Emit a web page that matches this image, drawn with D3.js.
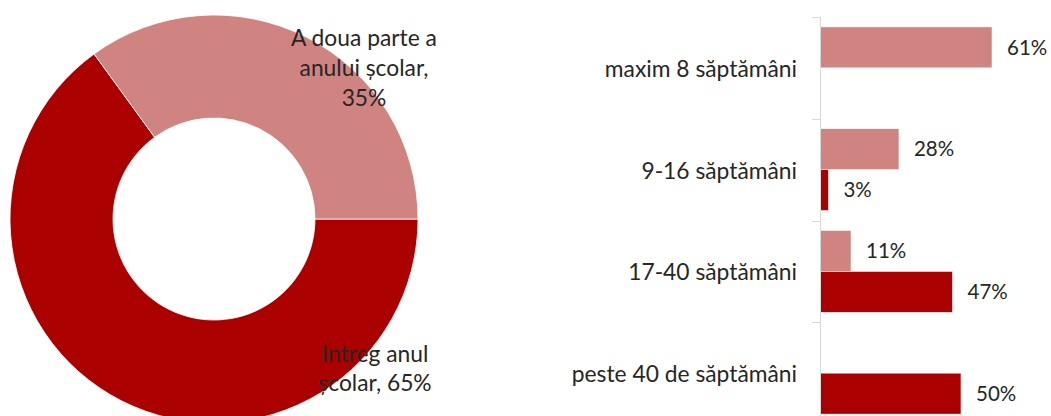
<!DOCTYPE html>
<html>
<head>
<meta charset="utf-8">
<script src="https://cdn.jsdelivr.net/npm/d3@7"></script>
<style>
  html, body { margin: 0; padding: 0; background: #fff; }
  svg { display: block; font-family: Lato, "Open Sans", sans-serif; }
</style>
</head>
<body>
<svg id="chart" width="1051" height="416"></svg>
<script>
// ---- Donut data ----
const donutNames = ["Intreg anul școlar", "A doua parte a anului școlar"];
const donutValues = [65, 35];
const donutLabelLines = [["Intreg anul", "școlar, 65%"], ["A doua parte a", "anului școlar,", "35%"]];

// ---- Bar data ----
const categories = ["maxim 8 săptămâni", "9-16 săptămâni", "17-40 săptămâni", "peste 40 de săptămâni"];
const seriesNames = ["A doua parte a anului școlar", "Intreg anul școlar"];
const seriesLight = [61, 28, 11, null];
const seriesDark = [null, 3, 47, 50];

const colorLight = "#D08482";
const colorDark = "#AA0000";
const textColor = "#262626";

const svg = d3.select("#chart");

// ---- Donut ----
const cx = 214, cy = 219, rOuter = 204, rInner = 101;
const pie = d3.pie().sort(null).value(d => d).startAngle(Math.PI / 2).endAngle(Math.PI / 2 + 2 * Math.PI);
const arcs = pie(donutValues);
const arc = d3.arc().innerRadius(rInner).outerRadius(rOuter);
const gDonut = svg.append("g").attr("transform", `translate(${cx},${cy})`);
gDonut.selectAll("path").data(arcs).enter().append("path")
  .attr("d", arc)
  .attr("fill", (d, i) => i === 0 ? colorDark : colorLight)
  .attr("stroke", "#fff").attr("stroke-width", 0.8);

// label positions (Excel-like best fit)
const donutLabelPos = [{x: 375, y: 362, dy: 29}, {x: 364, y: 46, dy: 30}];
donutLabelLines.forEach((lines, i) => {
  const p = donutLabelPos[i];
  const t = svg.append("text").attr("text-anchor", "middle")
    .attr("fill", textColor).style("font-size", "22.8px");
  lines.forEach((ln, j) => {
    t.append("tspan").attr("x", p.x).attr("y", p.y + j * p.dy).text(ln);
  });
});

// ---- Bars ----
const x0 = 820;
const x = d3.scaleLinear().domain([0, 70]).range([x0, x0 + 197.4]);
const y = d3.scaleBand().domain(categories).range([17, 424]).paddingInner(0.194).paddingOuter(0.097);
const ySub = d3.scaleBand().domain([0, 1]).range([0, y.bandwidth()]);
const step = y.step();
const gap = step * 0.194 / 2;

const rows = [];
categories.forEach((c, i) => {
  [seriesLight[i], seriesDark[i]].forEach((v, s) => {
    if (v !== null) rows.push({c, s, v});
  });
});

const gBars = svg.append("g");
gBars.selectAll("rect").data(rows).enter().append("rect")
  .attr("x", x(0))
  .attr("y", d => y(d.c) + ySub(d.s))
  .attr("width", d => x(d.v) - x(0))
  .attr("height", ySub.bandwidth())
  .attr("fill", d => d.s === 0 ? colorLight : colorDark)
  .attr("stroke", "#fff").attr("stroke-width", 0.6);

gBars.selectAll("text.val").data(rows).enter().append("text")
  .attr("class", "val")
  .attr("x", d => x(d.v) + 15)
  .attr("y", d => y(d.c) + ySub(d.s) + ySub.bandwidth() / 2)
  .attr("dy", "0.35em")
  .attr("fill", textColor)
  .style("font-size", "20.5px")
  .text(d => d.v + "%");

// axis line
const gAxis = svg.append("g");
gAxis.append("line")
  .attr("x1", x0 + 0.5).attr("x2", x0 + 0.5)
  .attr("y1", y(categories[0]) - gap).attr("y2", y(categories[categories.length - 1]) + y.bandwidth() + gap)
  .attr("stroke", "#D9D9D9").attr("stroke-width", 1);
const bounds = categories.map(c => y(c) - gap).concat([y(categories[categories.length - 1]) + y.bandwidth() + gap]);
gAxis.selectAll("line.tick").data(bounds).enter().append("line")
  .attr("class", "tick")
  .attr("x1", x0 - 8).attr("x2", x0 + 0.5)
  .attr("y1", d => Math.round(d) + 0.5).attr("y2", d => Math.round(d) + 0.5)
  .attr("stroke", "#D9D9D9").attr("stroke-width", 1);
gAxis.selectAll("text.cat").data(categories).enter().append("text")
  .attr("class", "cat")
  .attr("x", x0 - 23)
  .attr("y", d => y(d) + y.bandwidth() / 2 + 1)
  .attr("dy", "0.35em")
  .attr("text-anchor", "end")
  .attr("fill", textColor)
  .style("font-size", "22.8px")
  .text(d => d);
</script>
</body>
</html>
